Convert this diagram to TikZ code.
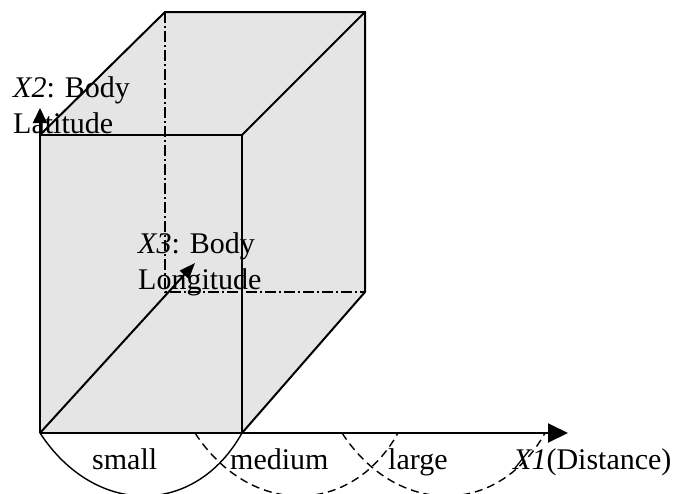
\documentclass[tikz,border=0pt]{standalone}
\usepackage{fontspec}
\setmainfont{Liberation Serif}
\usetikzlibrary{arrows.meta, calc}

\begin{document}
\begin{tikzpicture}[x=1pt, y=-1pt,
    edge/.style={line width=2pt},
    hidden/.style={line width=2pt, dash pattern=on 11pt off 3pt on 2pt off 3pt},
    member/.style={line width=1.4pt},
    fuzzy/.style={member, dash pattern=on 8pt off 5pt},
    lbl/.style={font=\fontsize{30}{36}\selectfont, inner sep=0pt, align=left}]
    \clip (0,0) rectangle (688,493);
    % corners of the box
    \coordinate (O) at (40,433);
    \coordinate (A) at (40,135);
    \coordinate (B) at (242,135);
    \coordinate (C) at (242,433);
    \coordinate (D) at (165,12);
    \coordinate (E) at (365,12);
    \coordinate (F) at (365,292);
    \coordinate (G) at (165,292);
    % axis ends
    \coordinate (X1tip) at (568,433);
    \coordinate (X2tip) at (40,108);
    \coordinate (X3tip) at (195,263);
    % ends of the membership curves
    \coordinate (m1) at (195,433);
    \coordinate (m2) at (398,433);
    \coordinate (l1) at (342,433);
    \coordinate (l2) at (545,433);
    % shaded body
    \fill[black!10] (O) -- (A) -- (D) -- (E) -- (F) -- (C) -- cycle;
    % membership curves
    \draw[member] (O) .. controls ($(O)+(55,84)$) and ($(C)+(-47,84)$) .. (C);
    \draw[fuzzy] (m1) .. controls ($(m1)+(55,84)$) and ($(m2)+(-47,84)$) .. (m2);
    \draw[fuzzy] (l1) .. controls ($(l1)+(55,84)$) and ($(l2)+(-47,84)$) .. (l2);
    % box edges
    \draw[edge] (A) -- (B) -- (C);
    \draw[edge] (A) -- (D) -- (E) -- (F) -- (C);
    \draw[edge] (B) -- (E);
    \draw[hidden] (D) -- (G) -- (F);
    % axes
    \draw[edge, -{Triangle[length=20pt,width=19pt]}] (O) -- (X1tip);
    \draw[edge, -{Triangle[length=15pt,width=14pt]}] (O) -- (X2tip);
    \draw[edge, -{Triangle[length=16pt,width=12pt]}] (O) -- (X3tip);
    % labels
    \node[lbl, anchor=north west] (x2lbl) at (13,76) {\textit{X2}: Body\\Latitude};
    \node[lbl, anchor=north west] (x3lbl) at (138,232) {\textit{X3}: Body\\Longitude};
    \node[lbl, anchor=base west] (small) at (92,469) {small};
    \node[lbl, anchor=base west] (medium) at (230,469) {medium};
    \node[lbl, anchor=base west] (large) at (388,469) {large};
    \node[lbl, anchor=base west] (x1lbl) at (513,469) {\textit{X1}(Distance)};
\end{tikzpicture}
\end{document}
